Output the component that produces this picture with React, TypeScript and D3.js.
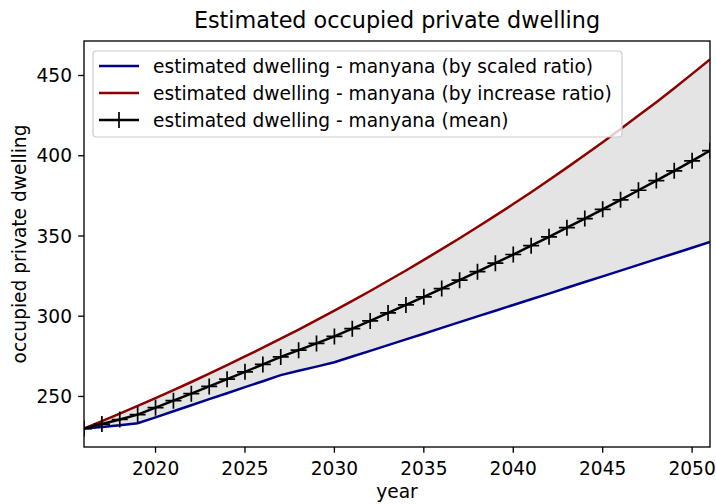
import React from "react";
import * as d3 from "d3";

// Yearly estimates, 2016–2051
const years: number[] = d3.range(2016, 2052);

const scaledRatio: number[] = [
  230.0, 231.0, 232.0, 233.3, 237.0, 240.8, 244.5, 248.3, 252.0, 255.8,
  259.5, 263.3, 266.0, 268.6, 271.3, 274.9, 278.4, 282.0, 285.6, 289.1,
  292.7, 296.3, 299.9, 303.4, 307.0, 310.6, 314.1, 317.7, 321.3, 324.8,
  328.4, 332.0, 335.6, 339.1, 342.7, 346.3,
];

const increaseRatio: number[] = [
  230.0, 234.6, 239.3, 244.1, 249.0, 253.9, 259.0, 264.2, 269.5, 274.9,
  280.4, 286.0, 291.7, 297.5, 303.5, 309.6, 315.7, 322.1, 328.5, 335.1,
  341.8, 348.6, 355.6, 362.7, 369.9, 377.3, 384.9, 392.6, 400.4, 408.4,
  416.6, 425.0, 433.4, 442.1, 451.0, 460.0,
];

const meanEstimate: number[] = [
  230.0, 232.8, 235.65, 238.7, 243.0, 247.35, 251.75, 256.25, 260.75, 265.35,
  269.95, 274.65, 278.85, 283.05, 287.4, 292.25, 297.05, 302.05, 307.05, 312.1,
  317.25, 322.45, 327.75, 333.05, 338.45, 343.95, 349.5, 355.15, 360.85, 366.6,
  372.5, 378.5, 384.5, 390.6, 396.85, 403.15,
];

const xTicks: number[] = [2020, 2025, 2030, 2035, 2040, 2045, 2050];
const yTicks: number[] = [250, 300, 350, 400, 450];

const legendLabels: string[] = [
  "estimated dwelling - manyana (by scaled ratio)",
  "estimated dwelling - manyana (by increase ratio)",
  "estimated dwelling - manyana (mean)",
];

const W = 716;
const H = 504;
const left = 84;
const right = 710;
const top = 41;
const bottom = 447;
const FONT = "'DejaVu Sans', sans-serif";
const FS = 18.6;
const BLUE = "#00008b";
const RED = "#8b0000";

export default function App() {
  const x = d3.scaleLinear().domain([2016, 2051]).range([left, right]);
  const y = d3.scaleLinear().domain([218.5, 471.5]).range([bottom, top]);

  const line = d3
    .line<number>()
    .x((_, i) => x(years[i]))
    .y((d) => y(d));

  const band = d3
    .area<number>()
    .x((_, i) => x(years[i]))
    .y0((_, i) => y(scaledRatio[i]))
    .y1((_, i) => y(increaseRatio[i]));

  const plus = (cx: number, cy: number, key: string | number, r = 8) => (
    <path
      key={key}
      d={`M${cx - r},${cy}H${cx + r}M${cx},${cy - r}V${cy + r}`}
      stroke="#000"
      strokeWidth={1.7}
      fill="none"
    />
  );

  const legendRows = [
    { color: BLUE, y: 66, marker: false },
    { color: RED, y: 93, marker: false },
    { color: "#000", y: 120, marker: true },
  ];

  return (
    <svg
      width={W}
      height={H}
      style={{ position: "absolute", left: 0, top: 0, background: "#fff" }}
      fontFamily={FONT}
    >
      <defs>
        <clipPath id="plot-clip">
          <rect x={left} y={top} width={right - left} height={bottom - top} />
        </clipPath>
      </defs>

      <g clipPath="url(#plot-clip)">
        <path d={band(scaledRatio) || ""} fill="#e4e4e4" stroke="none" />
        <path d={line(scaledRatio) || ""} fill="none" stroke={BLUE} strokeWidth={2.5} />
        <path d={line(increaseRatio) || ""} fill="none" stroke={RED} strokeWidth={2.5} />
        <path d={line(meanEstimate) || ""} fill="none" stroke="#000" strokeWidth={2.5} />
        {meanEstimate.map((v, i) => plus(x(years[i]), y(v), i))}
      </g>

      {/* axes frame */}
      <rect
        x={left}
        y={top}
        width={right - left}
        height={bottom - top}
        fill="none"
        stroke="#000"
        strokeWidth={1.33}
      />

      {/* x axis */}
      {xTicks.map((t) => (
        <g key={t} transform={`translate(${x(t)},${bottom})`}>
          <line y1={0} y2={5.8} stroke="#000" strokeWidth={1.33} />
          <text y={28} textAnchor="middle" fontSize={FS} fill="#000">
            {t}
          </text>
        </g>
      ))}
      <text x={(left + right) / 2} y={498} textAnchor="middle" fontSize={FS} fill="#000">
        year
      </text>

      {/* y axis */}
      {yTicks.map((t) => (
        <g key={t} transform={`translate(${left},${y(t)})`}>
          <line x1={0} x2={-5.8} stroke="#000" strokeWidth={1.33} />
          <text x={-12} dy="0.36em" textAnchor="end" fontSize={FS} fill="#000">
            {t}
          </text>
        </g>
      ))}
      <text
        transform={`translate(26,${(top + bottom) / 2}) rotate(-90)`}
        textAnchor="middle"
        fontSize={FS}
        fill="#000"
      >
        occupied private dwelling
      </text>

      {/* title */}
      <text x={(left + right) / 2} y={28} textAnchor="middle" fontSize={22.3} fill="#000">
        Estimated occupied private dwelling
      </text>

      {/* legend */}
      <g>
        <rect
          x={93}
          y={51}
          width={529}
          height={86}
          rx={3.5}
          fill="#fff"
          fillOpacity={0.8}
          stroke="#cccccc"
          strokeWidth={1.2}
        />
        {legendRows.map((r, i) => (
          <g key={i}>
            <line x1={99} x2={139} y1={r.y} y2={r.y} stroke={r.color} strokeWidth={2.5} />
            {r.marker && plus(119, r.y, "m" + i)}
            <text x={153} y={r.y} dy="0.36em" fontSize={FS} fill="#000">
              {legendLabels[i]}
            </text>
          </g>
        ))}
      </g>
    </svg>
  );
}
